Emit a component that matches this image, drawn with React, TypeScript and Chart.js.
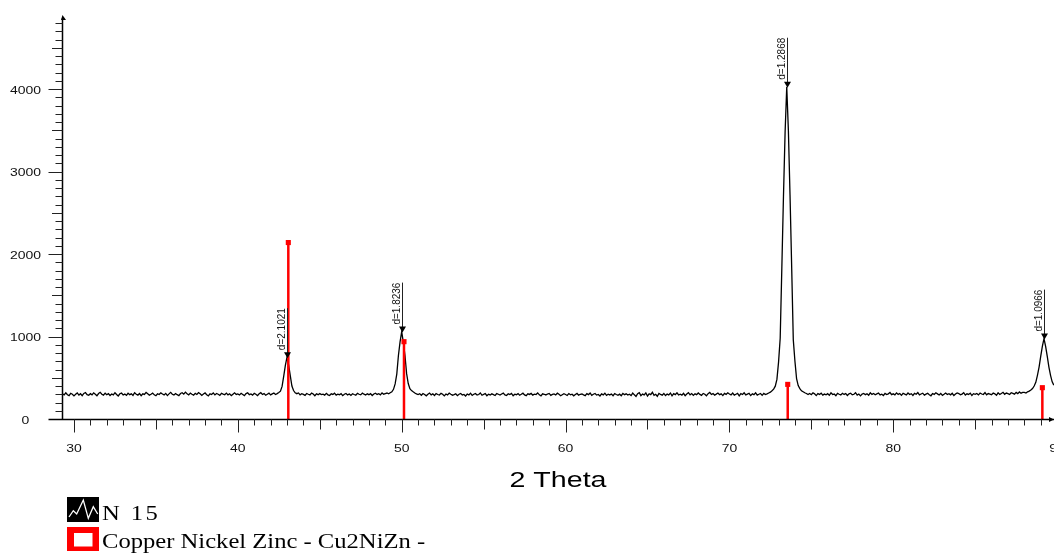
import React, { useEffect, useRef } from "react";
import { Chart, registerables } from "chart.js";

Chart.register(...registerables);

// Diffractogram of sample "N 15": counts sampled every 0.1° of 2θ, starting at 29.3°
const scanStart = 29.3;
const scanStep = 0.1;

const counts29to39 = [
  305, 292, 318, 294, 284, 312, 301, 280, 299, 316,
  290, 306, 283, 310, 321, 296, 288, 307, 293, 317,
  300, 281, 309, 324, 301, 289, 313, 295, 308, 285,
  303, 293, 319, 298, 279, 306, 315, 291, 302, 287,
  312, 295, 305, 286, 318, 300, 290, 309, 283, 305,
  298, 322, 307, 289, 301, 314, 293, 282, 306, 297,
  317, 303, 292, 311, 284, 305, 323, 300, 290, 308,
  295, 283, 309, 318, 301, 326, 306, 293, 314, 300,
  289, 311, 298, 320, 307, 286, 303, 316, 295, 281,
  305, 297, 317, 292, 309, 300, 287, 312, 301, 295,
  314, 293, 306, 284, 301, 318, 298,
];
const counts40to49 = [
  305, 292, 312, 298, 284, 309, 317, 295, 303, 290,
  311, 300, 283, 306, 320, 297, 308, 288, 301, 314,
  293, 305, 316, 297, 308, 322, 338, 395, 520, 650,
  750, 655, 525, 400, 345, 318, 307, 316, 293, 306,
  298, 286, 309, 300, 292, 314, 303, 282, 306, 295,
  308, 297, 301, 289, 311, 293, 285, 305, 298, 313,
  290, 301, 295, 308, 283, 300, 310, 292, 303, 287,
  307, 297, 289, 311, 300, 293, 314, 301, 290, 305,
  295, 308, 285, 303, 313, 298, 306, 293, 316, 301,
  309, 315, 305, 318, 330, 360, 425, 545, 770, 935,
];
const counts50to59 = [
  1060, 930, 770, 550, 430, 368, 345, 330, 316, 305,
  297, 306, 288, 309, 298, 281, 301, 315, 293, 305,
  285, 308, 297, 291, 311, 300, 280, 303, 293, 314,
  301, 289, 295, 306, 283, 300, 310, 292, 298, 279,
  303, 293, 313, 286, 300, 308, 290, 297, 316, 288,
  298, 309, 282, 301, 292, 305, 295, 285, 308, 300,
  290, 303, 314, 293, 286, 306, 297, 310, 281, 301,
  295, 308, 288, 300, 313, 292, 283, 305, 298, 310,
  289, 301, 297, 316, 293, 281, 306, 300, 292, 303,
  310, 286, 298, 305, 292, 313, 300, 282, 295, 307,
];
const counts60to69 = [
  297, 285, 308, 293, 301, 281, 298, 310, 289, 300,
  303, 292, 283, 307, 295, 316, 287, 300, 310, 290,
  298, 279, 305, 293, 313, 286, 300, 292, 303, 283,
  308, 297, 287, 301, 282, 310, 295, 305, 290, 300,
  285, 314, 293, 274, 307, 320, 283, 302, 292, 317,
  278, 306, 295, 324, 287, 300, 276, 311, 298, 289,
  310, 284, 302, 293, 315, 281, 307, 296, 318, 291,
  300, 289, 312, 283, 303, 319, 293, 308, 286, 305,
  295, 316, 298, 287, 310, 300, 281, 307, 323, 297,
  308, 290, 302, 315, 295, 305, 284, 310, 298, 318,
];
const counts70to79 = [
  303, 293, 315, 289, 300, 310, 281, 307, 297, 318,
  292, 302, 312, 284, 305, 295, 317, 290, 300, 309,
  287, 311, 298, 305, 315, 325, 342, 362, 398, 480,
  690, 980, 1830, 2700, 3480, 4030, 3500, 2720, 1850, 960,
  700, 490, 405, 368, 342, 330, 318, 309, 297, 310,
  295, 318, 305, 284, 308, 298, 313, 290, 302, 293,
  307, 287, 317, 297, 303, 282, 310, 300, 292, 312,
  298, 309, 285, 305, 313, 293, 300, 319, 290, 303,
  281, 302, 310, 295, 307, 289, 317, 298, 309, 293,
  304, 315, 292, 300, 285, 310, 297, 305, 321, 295,
];
const counts80to89 = [
  305, 293, 317, 298, 309, 287, 312, 301, 292, 315,
  297, 307, 285, 310, 300, 321, 293, 303, 313, 290,
  302, 312, 295, 282, 309, 298, 318, 305, 292, 310,
  287, 300, 315, 297, 307, 293, 312, 284, 303, 317,
  309, 295, 302, 320, 290, 305, 298, 314, 285, 307,
  300, 310, 292, 315, 303, 297, 321, 293, 309, 302,
  295, 314, 305, 287, 317, 298, 309, 324, 300, 315,
  307, 297, 319, 311, 301, 323, 308, 328, 313, 322,
  322, 315, 330, 338, 352, 370, 400, 445, 530, 630,
  760, 880, 975, 880, 760, 630, 530, 450, 410,
];

const scanCounts = [
  ...counts29to39,
  ...counts40to49,
  ...counts50to59,
  ...counts60to69,
  ...counts70to79,
  ...counts80to89,
];

// Labelled peaks (d-spacings in Å)
const peakAngles = [43.0, 50.0, 73.5, 89.2];
const peakLabels = ["d=2.1021", "d=1.8236", "d=1.2868", "d=1.0966"];

// Reference pattern: Copper Nickel Zinc - Cu2NiZn
const refAngles = [43.08, 50.14, 73.56, 89.1];
const refIntensities = [2140, 938, 420, 380];

// Axis ranges and tick labels
const xMin = 29.268;
const xMax = 89.811;
const yMin = 0;
const yMax = 4900;
const xTickLabels = [30, 40, 50, 60, 70, 80, 90];
const yTickLabels = [0, 1000, 2000, 3000, 4000];

const legendSample = "N 15";
const legendReference = "Copper Nickel Zinc - Cu2NiZn -";
const xTitle = "2 Theta";

const SANS = '"Liberation Sans", Arial, sans-serif';
const SERIF = '"Liberation Serif", "Times New Roman", serif';

function stretchedText(
  ctx: CanvasRenderingContext2D,
  text: string,
  x: number,
  y: number,
  sx: number,
  align: CanvasTextAlign,
  baseline: CanvasTextBaseline
) {
  ctx.save();
  ctx.translate(x, y);
  ctx.scale(sx, 1);
  ctx.textAlign = align;
  ctx.textBaseline = baseline;
  ctx.fillText(text, 0, 0);
  ctx.restore();
}

const axesPlugin = {
  id: "xrdAxes",
  afterDraw(chart: any) {
    const ctx: CanvasRenderingContext2D = chart.ctx;
    const xs = chart.scales.x;
    const ys = chart.scales.y;
    const x0 = Math.round(xs.left) + 0.5;
    const y0 = Math.round(ys.getPixelForValue(0)) + 0.5;
    const yTop = ys.top;
    const right = chart.width;

    ctx.save();
    ctx.strokeStyle = "#000";
    ctx.fillStyle = "#000";

    // axis lines
    ctx.lineWidth = 1.5;
    ctx.beginPath();
    ctx.moveTo(x0 - 14, y0);
    ctx.lineTo(right, y0);
    ctx.moveTo(x0, y0);
    ctx.lineTo(x0, yTop + 3);
    ctx.stroke();

    // arrow heads
    ctx.beginPath();
    ctx.moveTo(x0, yTop);
    ctx.lineTo(x0 - 1.5, yTop + 5);
    ctx.lineTo(x0 + 3.5, yTop + 5);
    ctx.closePath();
    ctx.fill();
    ctx.beginPath();
    ctx.moveTo(right, y0);
    ctx.lineTo(right - 5, y0 - 2.5);
    ctx.lineTo(right - 5, y0 + 2.5);
    ctx.closePath();
    ctx.fill();

    // x ticks every degree, hanging below the axis
    ctx.lineWidth = 1;
    ctx.strokeStyle = "#222";
    ctx.beginPath();
    for (let v = 30; v <= 90; v++) {
      const px = Math.round(xs.getPixelForValue(v)) + 0.5;
      if (px > right) break;
      const len = v % 10 === 0 ? 13 : v % 5 === 0 ? 10 : 6;
      ctx.moveTo(px, y0);
      ctx.lineTo(px, y0 + len);
    }
    // y ticks every 100 counts, pointing left
    for (let v = 100; v <= 4800; v += 100) {
      const py = Math.round(ys.getPixelForValue(v)) + 0.5;
      const len = v % 1000 === 0 ? 14 : v % 500 === 0 ? 10.5 : 7;
      ctx.moveTo(x0, py);
      ctx.lineTo(x0 - len, py);
    }
    ctx.stroke();

    // tick labels
    ctx.fillStyle = "#111";
    ctx.font = "11px " + SANS;
    for (const v of yTickLabels) {
      stretchedText(ctx, String(v), 25.5, ys.getPixelForValue(v) + 1.5, 1.27, "center", "middle");
    }
    for (const v of xTickLabels) {
      stretchedText(ctx, String(v), xs.getPixelForValue(v), y0 + 29.5, 1.27, "center", "middle");
    }

    // axis title
    ctx.fillStyle = "#000";
    ctx.font = "22px " + SANS;
    stretchedText(ctx, xTitle, (xs.left + xs.right) / 2, 481, 1.3, "center", "middle");

    // legend
    const lx = 67;
    ctx.fillStyle = "#000";
    ctx.fillRect(lx, 497, 32, 25);
    ctx.strokeStyle = "#fff";
    ctx.lineWidth = 1.3;
    ctx.beginPath();
    ctx.moveTo(lx + 2, 517);
    ctx.lineTo(lx + 6.3, 510.7);
    ctx.lineTo(lx + 9.7, 514);
    ctx.lineTo(lx + 16.3, 500);
    ctx.lineTo(lx + 21.3, 518.3);
    ctx.lineTo(lx + 26.3, 506.7);
    ctx.lineTo(lx + 30.7, 514);
    ctx.stroke();

    ctx.fillStyle = "#ff0000";
    ctx.fillRect(lx, 527, 32, 24);
    ctx.fillStyle = "#fff";
    ctx.fillRect(lx + 7, 533, 18.5, 13.5);

    ctx.fillStyle = "#000";
    ctx.font = "20px " + SERIF;
    (ctx as any).letterSpacing = "2px";
    stretchedText(ctx, legendSample, 102, 519.5, 1.23, "left", "alphabetic");
    (ctx as any).letterSpacing = "0px";
    stretchedText(ctx, legendReference, 102, 548, 1.23, "left", "alphabetic");

    ctx.restore();
  },
  afterDatasetsDraw(chart: any) {
    const ctx: CanvasRenderingContext2D = chart.ctx;
    const xs = chart.scales.x;
    const ys = chart.scales.y;
    ctx.save();
    peakAngles.forEach((angle, i) => {
      const idx = Math.round((angle - scanStart) / scanStep);
      const px = Math.round(xs.getPixelForValue(angle)) + 0.5;
      const py = ys.getPixelForValue(scanCounts[idx]);
      // stem
      ctx.strokeStyle = "#222";
      ctx.lineWidth = 1;
      ctx.beginPath();
      ctx.moveTo(px, py - 49);
      ctx.lineTo(px, py - 4);
      ctx.stroke();
      // down-pointing marker
      ctx.fillStyle = "#000";
      ctx.beginPath();
      ctx.moveTo(px - 3.5, py - 5);
      ctx.lineTo(px + 3.5, py - 5);
      ctx.lineTo(px, py + 1);
      ctx.closePath();
      ctx.fill();
      // rotated d-spacing label
      ctx.save();
      ctx.translate(px - 2.7, py - 49);
      ctx.rotate(-Math.PI / 2);
      ctx.font = "10px " + SANS;
      ctx.textAlign = "right";
      ctx.textBaseline = "alphabetic";
      ctx.fillStyle = "#111";
      ctx.fillText(peakLabels[i], 0, 0);
      ctx.restore();
    });
    ctx.restore();
  },
};

export default function App() {
  const canvasRef = useRef<HTMLCanvasElement | null>(null);

  useEffect(() => {
    const canvas = canvasRef.current;
    if (!canvas) return;

    const scanPoints = scanCounts.map((c, i) => ({
      x: +(scanStart + i * scanStep).toFixed(2),
      y: c,
    }));

    const stickPoints: { x: number; y: number | null }[] = [];
    refAngles.forEach((a, i) => {
      stickPoints.push({ x: a, y: 0 });
      stickPoints.push({ x: a, y: refIntensities[i] });
      stickPoints.push({ x: a, y: null });
    });

    const chart = new Chart(canvas, {
      type: "line",
      data: {
        datasets: [
          {
            label: legendReference,
            data: stickPoints as any,
            borderColor: "#ff0000",
            backgroundColor: "#ff0000",
            borderWidth: 2.5,
            spanGaps: false,
            pointStyle: "rect",
            pointBorderWidth: 0,
            pointRadius: (c: any) => (c.raw && c.raw.y > 0 ? 3.6 : 0),
          },
          {
            label: legendSample,
            data: scanPoints,
            borderColor: "#000",
            borderWidth: 1.3,
            pointRadius: 0,
            tension: 0,
          },
        ],
      },
      options: {
        responsive: false,
        animation: false,
        events: [],
        layout: { padding: { left: 62, right: 0, top: 15, bottom: 134 } },
        plugins: { legend: { display: false }, tooltip: { enabled: false } },
        scales: {
          x: { type: "linear", min: xMin, max: xMax, display: false },
          y: { type: "linear", min: yMin, max: yMax, display: false },
        },
      },
      plugins: [axesPlugin],
    });

    return () => chart.destroy();
  }, []);

  return (
    <div style={{ position: "fixed", left: 0, top: 0, width: 1054, height: 553, background: "#fff" }}>
      <canvas ref={canvasRef} width={1054} height={553} style={{ display: "block" }} />
    </div>
  );
}
